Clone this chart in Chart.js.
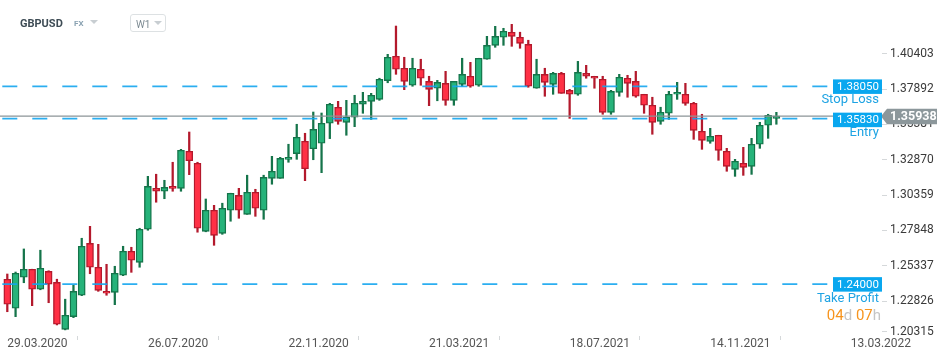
<!DOCTYPE html>
<html><head><meta charset="utf-8">
<script src="https://cdn.jsdelivr.net/npm/chart.js@4.4.0/dist/chart.umd.min.js"></script>
<style>
html,body{margin:0;padding:0;background:#fff;}
#wrap{position:relative;width:950px;height:361px;font-family:Roboto,sans-serif;overflow:hidden;}
canvas{position:absolute;left:0;top:0;}
.t{position:absolute;white-space:nowrap;line-height:1;}
#sym{left:20px;top:18px;font-size:11px;font-weight:bold;color:#3e4c55;}
#fx{left:74px;top:20px;font-size:8px;font-weight:bold;color:#8aa2b2;}
.tri{position:absolute;width:0;height:0;border-left:4px solid transparent;border-right:4px solid transparent;border-top:4px solid #c8ced2;}
#tf{position:absolute;left:130px;top:14px;width:34px;height:16px;border:1px solid #dde1e3;border-radius:3px;}
#w1{left:136px;top:20px;font-size:10px;color:#7d8b93;}
</style></head><body>
<div id="wrap">
<canvas id="c" width="950" height="361"></canvas>
<div class="t" id="sym">GBPUSD</div>
<div class="t" id="fx">FX</div>
<div class="tri" style="left:90px;top:20px;"></div>
<div id="tf"></div>
<div class="t" id="w1">W1</div>
<div class="tri" style="left:154px;top:21px;"></div>
</div>
<script>
// ---- data (weekly GBPUSD candles, first week 29.03.2020) ----
const openV = [1.2435,1.2229,1.2449,1.2506,1.2364,1.2491,1.2413,1.2079,1.2169,1.2321,
1.2690,1.2520,1.2349,1.2342,1.2463,1.2634,1.2555,1.2790,1.3081,1.3060,
1.3095,1.3081,1.3344,1.3259,1.2775,1.2925,1.2761,1.2925,1.3031,1.2896,
1.3053,1.2925,1.3152,1.3152,1.3287,1.3327,1.3415,1.3362,1.3401,1.3543,
1.3657,1.3550,1.3586,1.3678,1.3699,1.3713,1.3846,1.4019,1.3934,1.3813,
1.3927,1.3841,1.3792,1.3827,1.3706,1.3820,1.3877,1.3813,1.3998,1.4097,
1.4154,1.4190,1.4154,1.4104,1.3792,1.3891,1.3820,1.3898,1.3777,1.3749,
1.3898,1.3877,1.3856,1.3621,1.3763,1.3863,1.3841,1.3749,1.3671,1.3557,
1.3614,1.3749,1.3749,1.3685,1.3486,1.3415,1.3458,1.3344,1.3216,1.3259,
1.3237,1.3394,1.3529,1.3578];
const highV = [1.2472,1.2486,1.2650,1.2506,1.2641,1.2495,1.2435,1.2293,1.2392,1.2726,
1.2811,1.2683,1.2541,1.2527,1.2669,1.2662,1.2797,1.3166,1.3181,1.3138,
1.3266,1.3358,1.3481,1.3266,1.3005,1.2960,1.2975,1.3046,1.3081,1.3174,
1.3074,1.3174,1.3308,1.3301,1.3394,1.3536,1.3472,1.3623,1.3616,1.3685,
1.3699,1.3706,1.3742,1.3763,1.3756,1.3863,1.4033,1.4234,1.4012,1.4005,
1.3998,1.3877,1.3848,1.3912,1.3841,1.4005,1.3976,1.4005,1.4161,1.4232,
1.4218,1.4246,1.4190,1.4133,1.3998,1.3934,1.3905,1.3905,1.3784,1.3983,
1.3955,1.3877,1.3877,1.3777,1.3891,1.3884,1.3912,1.3749,1.3728,1.3657,
1.3770,1.3834,1.3827,1.3692,1.3607,1.3507,1.3458,1.3365,1.3287,1.3372,
1.3436,1.3550,1.3607,1.3621];
const lowV = [1.2204,1.2169,1.2410,1.2247,1.2360,1.2268,1.2110,1.2075,1.2162,1.2318,
1.2474,1.2349,1.2321,1.2254,1.2460,1.2484,1.2520,1.2783,1.2982,1.3007,
1.3060,1.3060,1.3178,1.2769,1.2772,1.2676,1.2754,1.2847,1.2868,1.2896,
1.2882,1.2861,1.3110,1.3152,1.3266,1.3287,1.3135,1.3284,1.3192,1.3434,
1.3536,1.3458,1.3519,1.3614,1.3571,1.3706,1.3831,1.3891,1.3782,1.3806,
1.3813,1.3668,1.3703,1.3671,1.3671,1.3806,1.3799,1.3806,1.3998,1.4083,
1.4097,1.4090,1.4076,1.3799,1.3792,1.3735,1.3749,1.3756,1.3578,1.3742,
1.3863,1.3792,1.3607,1.3607,1.3735,1.3728,1.3728,1.3614,1.3465,1.3536,
1.3571,1.3713,1.3671,1.3429,1.3358,1.3401,1.3280,1.3202,1.3166,1.3173,
1.3180,1.3365,1.3436,1.3536];
const closeV = [1.2257,1.2477,1.2506,1.2364,1.2513,1.2399,1.2115,1.2179,1.2349,1.2669,
1.2520,1.2356,1.2335,1.2477,1.2634,1.2570,1.2790,1.3095,1.3060,1.3088,
1.3081,1.3351,1.3277,1.2797,1.2925,1.2747,1.2939,1.3046,1.2925,1.3053,
1.2939,1.3159,1.3202,1.3294,1.3301,1.3444,1.3220,1.3500,1.3543,1.3678,
1.3557,1.3586,1.3685,1.3699,1.3742,1.3856,1.4012,1.3927,1.3841,1.3934,
1.3863,1.3784,1.3834,1.3706,1.3841,1.3891,1.3806,1.4005,1.4097,1.4161,
1.4197,1.4161,1.4111,1.3806,1.3891,1.3834,1.3898,1.3756,1.3749,1.3905,
1.3877,1.3863,1.3621,1.3770,1.3870,1.3827,1.3735,1.3671,1.3550,1.3621,
1.3749,1.3763,1.3685,1.3493,1.3422,1.3451,1.3351,1.3237,1.3273,1.3230,
1.3394,1.3529,1.3600,1.3594];
const xTickIndex = [0,17,34,51,68,85,102];
const xTickLabels = ['29.03.2020','26.07.2020','22.11.2020','21.03.2021','18.07.2021','14.11.2021','13.03.2022'];
const yTickValues = [1.20315,1.22826,1.25337,1.27848,1.30359,1.32870,1.35381,1.37892,1.40403];
const yTickLabels = ['1.20315','1.22826','1.25337','1.27848','1.30359','1.32870','1.35381','1.37892','1.40403'];
const levelValues = [1.38050,1.35830,1.24000];
const levelLabels = ['1.38050','1.35830','1.24000'];
const levelNames = ['Stop Loss','Entry','Take Profit'];
const currentPrice = 1.35938;
const currentLabel = '1.35938';
const countdown = [['04','#f7941d'],['d','#c5c5c5'],[' 07','#f7941d'],['h','#c5c5c5']];

const UP_FILL='#26b37a', UP_LINE='#15744a', DN_FILL='#ff3045', DN_LINE='#b3192c';
const up = i => closeV[i] >= openV[i];
const idx = closeV.map((_, i) => i);

const overlay = {
  id:'overlay',
  afterDatasetsDraw(chart){
    const ctx = chart.ctx, ys = chart.scales.y;
    ctx.save();
    levelValues.forEach((v,i)=>{
      const py = ys.getPixelForValue(v) + (i===1?1:0);
      ctx.strokeStyle = 'rgba(20,165,238,0.9)';
      ctx.lineWidth = 1.6;
      ctx.setLineDash([15,15]);
      ctx.lineDashOffset = -2.3;
      ctx.beginPath(); ctx.moveTo(0,py); ctx.lineTo(830,py); ctx.stroke();
    });
    ctx.setLineDash([]);
    const cp = ys.getPixelForValue(currentPrice);
    ctx.strokeStyle = '#8b9497'; ctx.lineWidth = 1.4;
    ctx.beginPath(); ctx.moveTo(0,cp); ctx.lineTo(884,cp); ctx.stroke();
    ctx.restore();
  },
  afterDraw(chart){
    const ctx = chart.ctx, ys = chart.scales.y;
    ctx.save();
    ctx.font = '12px Roboto'; ctx.textBaseline='middle'; ctx.textAlign='left';
    yTickValues.forEach((v,i)=>{
      const py = ys.getPixelForValue(v);
      const ty = Math.min(py, 331);
      ctx.strokeStyle='#d5d8da'; ctx.lineWidth=1;
      ctx.beginPath(); ctx.moveTo(882,Math.round(ty)+0.5); ctx.lineTo(887,Math.round(ty)+0.5); ctx.stroke();
      ctx.fillStyle='#3a3a3a';
      ctx.fillText(yTickLabels[i], 890, ty+0.5);
    });
    const cp = ys.getPixelForValue(currentPrice);
    ctx.fillStyle='#8c979b';
    ctx.beginPath();
    ctx.moveTo(881,cp); ctx.lineTo(887,cp-7.5); ctx.lineTo(937,cp-7.5); ctx.lineTo(937,cp+8); ctx.lineTo(887,cp+8); ctx.closePath(); ctx.fill();
    ctx.fillStyle='#fff'; ctx.font='bold 12.5px Roboto'; ctx.textAlign='left';
    ctx.fillText(currentLabel, 890, cp+0.8);
    levelValues.forEach((v,i)=>{
      const py = ys.getPixelForValue(v) + (i===1?2:0);
      ctx.fillStyle='#09a7ef';
      ctx.fillRect(833, py-7, 49, 14.5);
      ctx.fillStyle='#fff'; ctx.font='11.5px Roboto'; ctx.textAlign='center';
      ctx.fillText(levelLabels[i], 858, py+0.5);
      ctx.fillStyle='#1ea3e3'; ctx.font='13px Roboto'; ctx.textAlign='right';
      ctx.fillText(levelNames[i], 879, py + (i===2?15:13.5));
    });
    const tp = ys.getPixelForValue(levelValues[2]);
    ctx.font='15px Roboto'; ctx.textAlign='left';
    const total = countdown.reduce((s,p)=>s+ctx.measureText(p[0]).width,0);
    let x = 881 - total;
    countdown.forEach(p=>{ ctx.fillStyle=p[1]; ctx.fillText(p[0], x, tp+32); x += ctx.measureText(p[0]).width; });
    ctx.restore();
  }
};

new Chart(document.getElementById('c'), {
  type:'bar',
  data:{ datasets:[
    { label:'wick', data: idx.map(i=>({x:i, y:[lowV[i], highV[i]]})),
      backgroundColor: c => up(c.dataIndex)?UP_LINE:DN_LINE, barThickness:1.6, grouped:false, order:1, borderWidth:0 },
    { label:'body', data: idx.map(i=>({x:i, y:[openV[i], closeV[i]]})),
      backgroundColor: c => up(c.dataIndex)?UP_FILL:DN_FILL,
      borderColor: c => up(c.dataIndex)?UP_LINE:DN_LINE,
      borderWidth:1.4, borderSkipped:false, barThickness:7, grouped:false, order:0 }
  ]},
  options:{
    responsive:false, animation:false, devicePixelRatio:1,
    layout:{ padding:{ left:0, right:70, top:0, bottom:0 } },
    plugins:{ legend:{display:false}, tooltip:{enabled:false} },
    scales:{
      x:{ type:'linear', min:-0.883, max:105.53, offset:false,
        afterFit: s => { s.height = 25; },
        afterBuildTicks: s => { s.ticks = xTickIndex.map(v=>({value:v})); },
        ticks:{ align:'start', padding:-3.3, autoSkip:false, maxRotation:0, color:'#555',
          font:{ family:'Roboto', size:12 },
          callback: v => { const k = xTickIndex.indexOf(v); return k<0 ? '' : xTickLabels[k]; } },
        grid:{ drawOnChartArea:false, tickLength:4, color:'#d5d8da' },
        border:{ display:false } },
      y:{ display:false, min:1.20315, max:1.4419 }
    }
  },
  plugins:[overlay]
});
</script>
</body></html>
